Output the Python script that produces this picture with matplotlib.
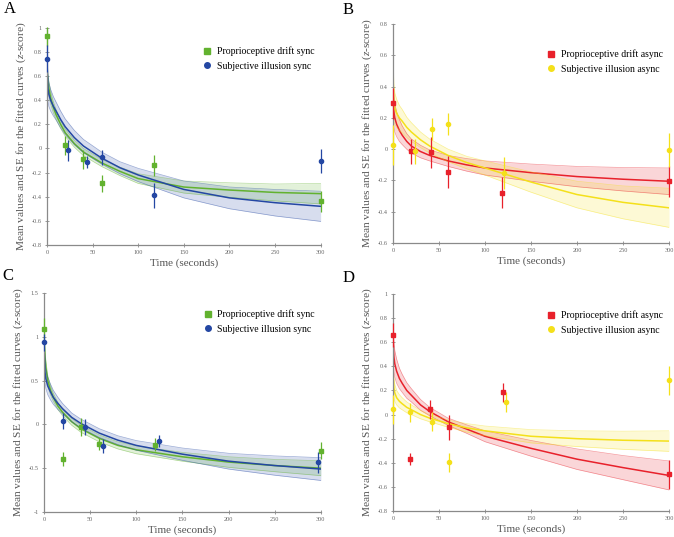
import matplotlib
matplotlib.use("Agg")
import matplotlib.pyplot as plt
from matplotlib.lines import Line2D

plt.rcParams['font.family'] = ['Liberation Serif', 'DejaVu Serif']
plt.rcParams['axes.unicode_minus'] = False
plt.rcParams['mathtext.fontset'] = 'custom'
plt.rcParams['mathtext.it'] = 'Liberation Serif:italic'
plt.rcParams['mathtext.rm'] = 'Liberation Serif'

# --- observed means (time, mean, SE) per panel
a_drift_t = [0, 20, 40, 60, 117, 300]
a_drift_y = [0.93, 0.025, -0.09, -0.29, -0.14, -0.44]
a_drift_se = [0.08, 0.08, 0.08, 0.07, 0.085, 0.09]
a_illu_t = [0, 23, 44, 60, 117, 300]
a_illu_y = [0.745, -0.017, -0.115, -0.075, -0.39, -0.105]
a_illu_se = [0.11, 0.09, 0.05, 0.06, 0.1, 0.1]

b_drift_t = [0, 19.5, 41, 60, 119, 300]
b_drift_y = [0.293, -0.013, -0.02, -0.145, -0.278, -0.205]
b_drift_se = [0.1, 0.08, 0.1, 0.1, 0.1, 0.1]
b_illu_t = [0, 24, 42, 60, 121, 300]
b_illu_y = [0.028, -0.013, 0.128, 0.163, -0.152, -0.004]
b_illu_se = [0.13, 0.08, 0.07, 0.07, 0.1, 0.11]

c_drift_t = [0, 20.6, 40.5, 60, 120, 300]
c_drift_y = [1.09, -0.40, -0.03, -0.22, -0.23, -0.30]
c_drift_se = [0.12, 0.08, 0.1, 0.07, 0.07, 0.1]
c_illu_t = [0, 20.6, 44, 64, 125, 297]
c_illu_y = [0.935, 0.04, -0.03, -0.25, -0.19, -0.43]
c_illu_se = [0.1, 0.09, 0.09, 0.08, 0.07, 0.12]

d_drift_t = [0, 18.4, 40, 61, 120, 300]
d_drift_y = [0.66, -0.37, 0.044, -0.107, 0.185, -0.496]
d_drift_se = [0.1, 0.05, 0.08, 0.1, 0.08, 0.12]
d_illu_t = [0, 18.4, 42, 61, 123, 300]
d_illu_y = [0.044, 0.019, -0.058, -0.397, 0.105, 0.284]
d_illu_se = [0.12, 0.08, 0.08, 0.08, 0.08, 0.12]

# --- fitted curves (value and half width of SE band)
curve_t = [0, 1, 2, 4, 7, 10, 15, 20, 30, 40, 60, 80, 100, 150, 200, 250, 300]

a_drift_fit = [0.65, 0.55, 0.50, 0.42, 0.34, 0.28, 0.20, 0.13, 0.04, -0.03, -0.12, -0.19, -0.25, -0.32, -0.345, -0.365, -0.375]
a_drift_band = [0.08, 0.07, 0.06, 0.05, 0.045, 0.04, 0.035, 0.03, 0.03, 0.03, 0.03, 0.035, 0.04, 0.05, 0.06, 0.07, 0.085]
a_illu_fit = [0.72, 0.5, 0.45, 0.4, 0.35, 0.31, 0.24, 0.18, 0.09, 0.02, -0.08, -0.16, -0.22, -0.34, -0.41, -0.45, -0.48]
a_illu_band = [0.12, 0.11, 0.1, 0.09, 0.08, 0.075, 0.07, 0.065, 0.06, 0.055, 0.05, 0.05, 0.055, 0.07, 0.09, 0.11, 0.125]

b_drift_fit = [0.36, 0.24, 0.2, 0.16, 0.12, 0.09, 0.05, 0.02, -0.015, -0.04, -0.075, -0.1, -0.12, -0.15, -0.175, -0.192, -0.205]
b_drift_band = [0.12, 0.1, 0.09, 0.08, 0.07, 0.06, 0.05, 0.045, 0.04, 0.035, 0.035, 0.04, 0.045, 0.055, 0.065, 0.075, 0.085]
b_illu_fit = [0.45, 0.3, 0.26, 0.23, 0.2, 0.18, 0.14, 0.11, 0.06, 0.02, -0.04, -0.085, -0.12, -0.21, -0.29, -0.34, -0.375]
b_illu_band = [0.15, 0.12, 0.1, 0.09, 0.08, 0.075, 0.065, 0.06, 0.05, 0.045, 0.04, 0.04, 0.045, 0.065, 0.085, 0.105, 0.125]

c_drift_fit = [1.0, 0.78, 0.65, 0.5, 0.39, 0.31, 0.21, 0.14, 0.03, -0.05, -0.16, -0.24, -0.29, -0.37, -0.43, -0.47, -0.50]
c_drift_band = [0.1, 0.08, 0.07, 0.06, 0.05, 0.045, 0.04, 0.04, 0.04, 0.04, 0.04, 0.04, 0.045, 0.05, 0.06, 0.07, 0.085]
c_illu_fit = [0.93, 0.6, 0.52, 0.44, 0.37, 0.31, 0.24, 0.18, 0.08, 0.01, -0.1, -0.18, -0.24, -0.34, -0.42, -0.47, -0.51]
c_illu_band = [0.15, 0.12, 0.11, 0.1, 0.09, 0.08, 0.07, 0.06, 0.05, 0.05, 0.05, 0.05, 0.055, 0.07, 0.09, 0.11, 0.13]

d_drift_fit = [0.62, 0.48, 0.42, 0.36, 0.3, 0.26, 0.2, 0.16, 0.08, 0.025, -0.06, -0.12, -0.18, -0.28, -0.37, -0.44, -0.505]
d_drift_band = [0.14, 0.12, 0.11, 0.1, 0.085, 0.075, 0.065, 0.055, 0.045, 0.035, 0.03, 0.035, 0.045, 0.065, 0.085, 0.1, 0.12]
d_illu_fit = [0.36, 0.22, 0.18, 0.14, 0.11, 0.09, 0.06, 0.04, 0.0, -0.03, -0.075, -0.11, -0.135, -0.18, -0.2, -0.213, -0.22]
d_illu_band = [0.1, 0.08, 0.07, 0.06, 0.055, 0.05, 0.045, 0.04, 0.035, 0.03, 0.03, 0.035, 0.04, 0.055, 0.065, 0.075, 0.085]

x_ticks = [0, 50, 100, 150, 200, 250, 300]

GREEN = '#62b22f'
BLUE = '#2447a3'
RED = '#e8212b'
YELLOW = '#f4e01a'
GREY = '#666666'

W, H = 674, 537


def draw_fit(ax, fit, band, color, fill_alpha):
    lo = [f - b for f, b in zip(fit, band)]
    hi = [f + b for f, b in zip(fit, band)]
    ax.fill_between(curve_t, lo, hi, color=color, alpha=fill_alpha, lw=0)
    ax.plot(curve_t, lo, color=color, lw=0.5, alpha=0.45)
    ax.plot(curve_t, hi, color=color, lw=0.5, alpha=0.45)
    ax.plot(curve_t, fit, color=color, lw=1.1)


def panel(rect, letter, letter_xy, legend_y, ylim, yticks, drift, illu, fits, colors, names):
    ax = fig.add_axes(rect)
    c1, c2 = colors
    draw_fit(ax, fits[0], fits[1], c1, 0.18)
    draw_fit(ax, fits[2], fits[3], c2, 0.18)
    ax.errorbar(drift[0], drift[1], yerr=drift[2], fmt='s', color=c1, ms=3.0,
                elinewidth=0.9, capsize=0, clip_on=False, zorder=5)
    ax.errorbar(illu[0], illu[1], yerr=illu[2], fmt='o', color=c2, ms=3.0,
                elinewidth=0.9, capsize=0, clip_on=False, zorder=5)
    ax.set_xlim(0, 300)
    ax.set_ylim(*ylim)
    ax.set_xticks(x_ticks)
    ax.set_yticks(yticks)
    ax.set_yticklabels(['%g' % v for v in yticks])
    for s in ['top', 'right']:
        ax.spines[s].set_visible(False)
    for s in ['left', 'bottom']:
        ax.spines[s].set_color('#8a8a8a')
        ax.spines[s].set_linewidth(0.9)
    ax.tick_params(direction='inout', length=2.5, width=0.6, colors='#8a8a8a',
                   labelsize=4.5, labelcolor=GREY, pad=2.5)
    ax.set_xlabel('Time (seconds)', fontsize=8, color='#555555', labelpad=2.5)
    ax.set_ylabel('Mean values and SE for the fitted curves ($z$-score)',
                  fontsize=8.2, color='#555555', labelpad=3)
    handles = [Line2D([], [], marker='s', ls='none', color=c1, ms=4.0),
               Line2D([], [], marker='o', ls='none', color=c2, ms=4.0)]
    ax.legend(handles, names, loc='upper right', bbox_to_anchor=(1.0, legend_y),
              frameon=False, fontsize=7, handlelength=0.8, handletextpad=0.6,
              labelspacing=0.55, borderaxespad=0.2)
    fig.text(letter_xy[0] / W, 1 - letter_xy[1] / H, letter, fontsize=12,
             va='center', ha='left')
    return ax


fig = plt.figure(figsize=(6.74, 5.37), dpi=100)

sync_names = ['Proprioceptive drift sync', 'Subjective illusion sync']
async_names = ['Proprioceptive drift async', 'Subjective illusion async']

panel([0.0697, 0.544, 0.406, 0.404], 'A', (4, 9), 0.94, (-0.8, 1.0),
      [-0.8, -0.6, -0.4, -0.2, 0, 0.2, 0.4, 0.6, 0.8, 1],
      (a_drift_t, a_drift_y, a_drift_se), (a_illu_t, a_illu_y, a_illu_se),
      (a_drift_fit, a_drift_band, a_illu_fit, a_illu_band), (GREEN, BLUE), sync_names)

panel([0.583, 0.5475, 0.4096, 0.4075], 'B', (343, 10), 0.91, (-0.6, 0.8),
      [-0.6, -0.4, -0.2, 0, 0.2, 0.4, 0.6, 0.8],
      (b_drift_t, b_drift_y, b_drift_se), (b_illu_t, b_illu_y, b_illu_se),
      (b_drift_fit, b_drift_band, b_illu_fit, b_illu_band), (RED, YELLOW), async_names)

panel([0.0653, 0.0466, 0.4107, 0.4078], 'C', (2, 276), 0.95, (-1.0, 1.5),
      [-1, -0.5, 0, 0.5, 1, 1.5],
      (c_drift_t, c_drift_y, c_drift_se), (c_illu_t, c_illu_y, c_illu_se),
      (c_drift_fit, c_drift_band, c_illu_fit, c_illu_band), (GREEN, BLUE), sync_names)

panel([0.583, 0.0484, 0.4096, 0.4041], 'D', (343, 278), 0.95, (-0.8, 1.0),
      [-0.8, -0.6, -0.4, -0.2, 0, 0.2, 0.4, 0.6, 0.8, 1],
      (d_drift_t, d_drift_y, d_drift_se), (d_illu_t, d_illu_y, d_illu_se),
      (d_drift_fit, d_drift_band, d_illu_fit, d_illu_band), (RED, YELLOW), async_names)

fig.savefig('out.png', dpi=100)
